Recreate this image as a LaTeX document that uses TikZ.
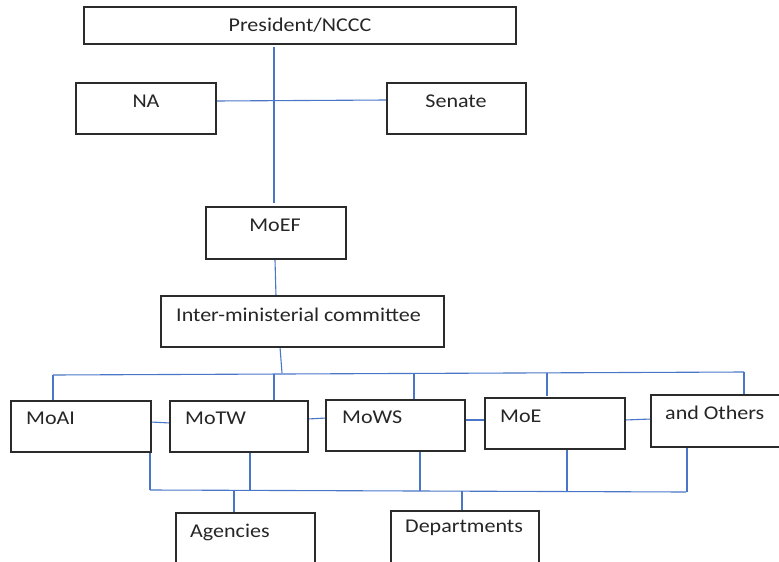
\documentclass[tikz,border=0pt]{standalone}
\usepackage{fontspec}
\setmainfont{Carlito}[FakeStretch=1.13]
\usetikzlibrary{calc}
\definecolor{linkblue}{HTML}{4A76C8}
\definecolor{boxline}{HTML}{2B2B2B}
\tikzset{
  x=1pt, y=-1pt,
  box/.style={draw=boxline, line width=1.1pt, fill=white, inner sep=0pt},
  lbl/.style={inner sep=0pt, font=\fontsize{19.5}{23}\selectfont, text=black!85},
  link/.style={draw=linkblue, line width=1.1pt},
}
% box: name, x1, y1, x2, y2
\newcommand\orgbox[5]{%
  \node[box, minimum width={#4-#2}, minimum height={#5-#3}] (#1) at ({(#2+#4)/2},{(#3+#5)/2}) {};}
\begin{document}
\begin{tikzpicture}
\useasboundingbox (0,0) rectangle (779,562);
\clip (0,0) rectangle (779,562);

% connectors (drawn first, boxes sit on top)
\coordinate (c-top) at (274,47);
\coordinate (c-mid) at (274,203);
\path[link] (c-top) -- (c-mid);
\coordinate (na-r) at (216,101);
\coordinate (se-l) at (387,100);
\path[link] (na-r) -- (se-l);
\coordinate (moef-b) at (275,260);
\coordinate (imc-top) at (276,296);
\path[link] (moef-b) -- (imc-top);
\coordinate (imc-b) at (280,347);
\coordinate (bus1) at (282,373);
\path[link] (imc-b) -- (bus1);

% upper distribution bus
\coordinate (b1a) at (53,375);
\coordinate (b1b) at (744,372);
\path[link] (b1a) -- (b1b);
\foreach \x/\y/\t in {53/375/400, 274/374/401, 414/373/399, 547/373/396, 744/372/396}
  \path[link] (\x,\y) -- (\x,\t);

% lower collection bus
\coordinate (b2a) at (150,490);
\coordinate (b2b) at (686,492);
\path[link] (b2a) -- (b2b);
\foreach \x/\s/\t in {150/452/490, 250/452/490, 420/451/491, 567/449/492, 687/447/492}
  \path[link] (\x,\s) -- (\x,\t);
\path[link] (234,491) -- (234,514);
\path[link] (462,491) -- (462,512);

% side links between ministries
\path[link] (151,422) -- (170,423);
\path[link] (308,419) -- (326,418);
\path[link] (465,420) -- (485,420);
\path[link] (625,420) -- (651,419);

% boxes
\orgbox{pres}{84}{7}{516}{44}
\orgbox{na}{76}{83}{216}{134}
\orgbox{senate}{387}{83}{526}{134}
\orgbox{moef}{206}{207}{346}{259}
\orgbox{imc}{161}{296}{444}{347}
\orgbox{moai}{11}{401}{151}{452}
\orgbox{motw}{170}{401}{308}{452}
\orgbox{mows}{326}{400}{465}{451}
\orgbox{moe}{485}{398}{625}{449}
\orgbox{others}{651}{395}{790}{447}
\orgbox{agen}{176}{513}{315}{580}
\orgbox{dept}{391}{511}{539}{580}

% labels
\node[lbl] (pres-t) at (300,25) {President/NCCC};
\node[lbl] (na-t) at (146,101) {NA};
\node[lbl] (senate-t) at (456,101) {Senate};
\node[lbl] (moef-t) at (275,225) {MoEF};
\node[lbl, anchor=west] (imc-t) at (176,315) {Inter-ministerial committee};
\node[lbl, anchor=west] (moai-t) at (26,418) {MoAI};
\node[lbl, anchor=west] (motw-t) at (185,418) {MoTW};
\node[lbl, anchor=west] (mows-t) at (342,417) {MoWS};
\node[lbl, anchor=west] (moe-t) at (500,416) {MoE};
\node[lbl, anchor=west] (others-t) at (665,413) {and Others};
\node[lbl, anchor=west] (agen-t) at (190,532) {Agencies};
\node[lbl, anchor=west] (dept-t) at (405,528) {Departments};
\end{tikzpicture}
\end{document}
